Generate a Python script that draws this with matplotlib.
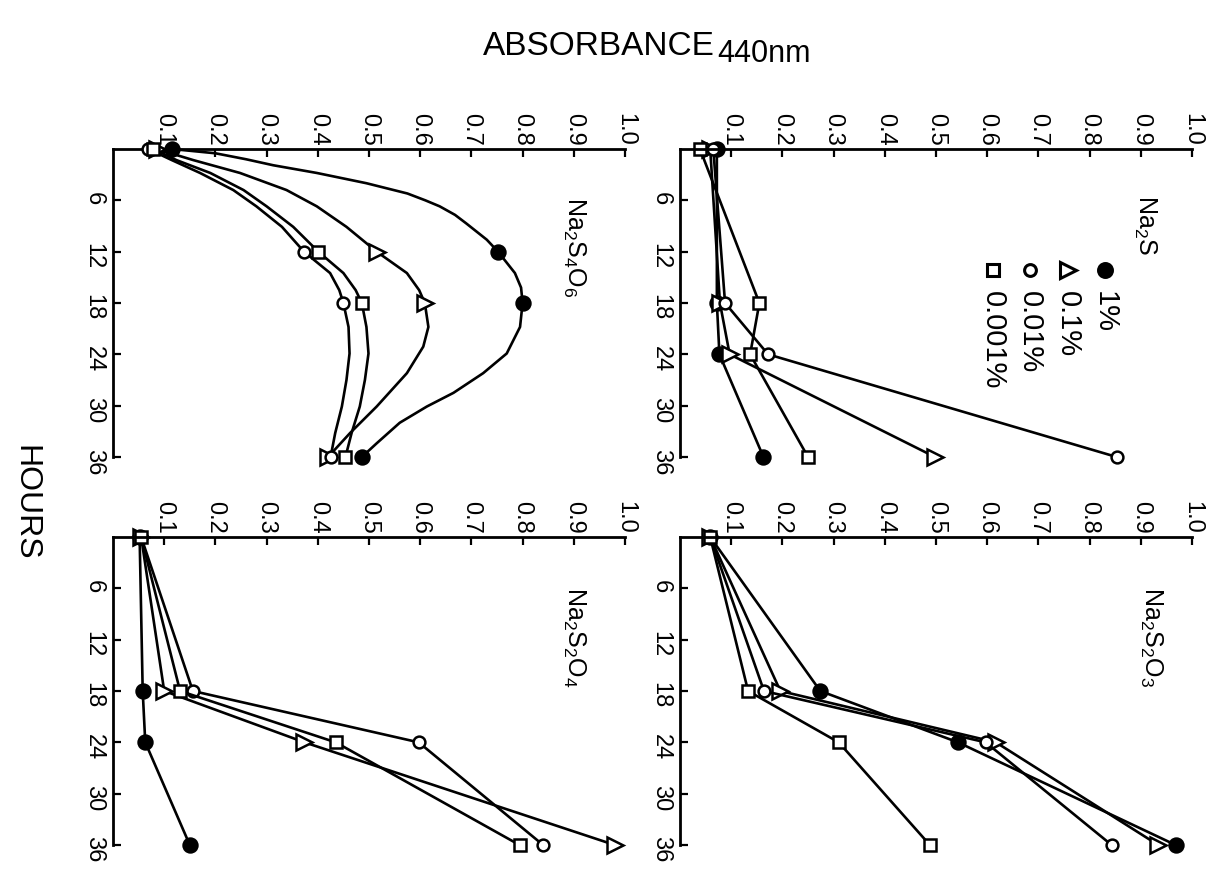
import matplotlib
matplotlib.use('Agg')
import matplotlib.pyplot as plt

# --- data read from the (rotated) figure: absorbance at 440 nm vs hours ---
# Na2S4O6 panel: measured points
s4o6_hours = [0, 12, 18, 36]
s4o6_1 = [0.115, 0.752, 0.800, 0.486]
s4o6_01 = [0.085, 0.515, 0.609, 0.420]
s4o6_001 = [0.069, 0.373, 0.450, 0.425]
s4o6_0001 = [0.079, 0.401, 0.486, 0.454]

# Na2S4O6 panel: hand drawn smooth curves
s4o6_curve_h_1 = [0, 0.5, 1.2, 1.9, 2.8, 4.0, 5.2, 6.0, 6.7, 7.7, 8.7, 10.6, 12, 14.5,
                  16.2, 18, 20.8, 23.9, 26.2, 28.5, 30.1, 32.0, 34.4, 36]
s4o6_curve_1 = [0.115, 0.20, 0.26, 0.313, 0.398, 0.495, 0.575, 0.61, 0.638, 0.668,
                0.69, 0.73, 0.752, 0.785, 0.797, 0.80, 0.795, 0.769, 0.723, 0.665,
                0.613, 0.56, 0.515, 0.486]
s4o6_curve_h_01 = [0, 1.3, 2.8, 4.8, 6.7, 9.1, 12, 14.5, 16.5, 18, 20.8, 23.1, 26.2,
                   30.1, 33.2, 36]
s4o6_curve_01 = [0.085, 0.157, 0.248, 0.339, 0.398, 0.456, 0.515, 0.574, 0.598, 0.609,
                 0.616, 0.606, 0.574, 0.515, 0.463, 0.420]
s4o6_curve_h_sq = [0, 1.3, 2.8, 4.8, 6.7, 9.1, 12, 14.5, 16.5, 18, 20.8, 23.9, 27,
                   30.1, 33.2, 36]
s4o6_curve_0001 = [0.079, 0.124, 0.19, 0.255, 0.30, 0.352, 0.401, 0.45, 0.474, 0.486,
                   0.495, 0.499, 0.492, 0.482, 0.466, 0.454]
s4o6_curve_001 = [0.069, 0.115, 0.17, 0.235, 0.28, 0.33, 0.373, 0.424, 0.442, 0.45,
                  0.46, 0.462, 0.456, 0.447, 0.434, 0.425]

# Na2S panel
s_hours = [0, 18, 24, 36]
s_1 = [0.072, 0.072, 0.077, 0.163]
s_01 = [0.059, 0.078, 0.097, 0.498]
s_001 = [0.065, 0.088, 0.172, 0.853]
s_0001 = [0.039, 0.155, 0.137, 0.250]

# Na2S2O4 panel
s2o4_hours = [0, 18, 24, 36]
s2o4_1 = [0.052, 0.058, 0.063, 0.150]
s2o4_01 = [0.055, 0.100, 0.374, 0.980]
s2o4_001 = [0.055, 0.156, 0.597, 0.840]
s2o4_0001 = [0.055, 0.131, 0.435, 0.794]

# Na2S2O3 panel
s2o3_hours = [0, 18, 24, 36]
s2o3_1 = [0.059, 0.274, 0.543, 0.968]
s2o3_01 = [0.059, 0.196, 0.617, 0.934]
s2o3_001 = [0.059, 0.164, 0.597, 0.843]
s2o3_0001 = [0.059, 0.133, 0.310, 0.488]

legend_labels = ['1%', '0.1%', '0.01%', '0.001%']
abs_ticks = [0.1, 0.2, 0.3, 0.4, 0.5, 0.6, 0.7, 0.8, 0.9, 1.0]
abs_tick_labels = ['0.1', '0.2', '0.3', '0.4', '0.5', '0.6', '0.7', '0.8', '0.9', '1.0']
hour_ticks = [6, 12, 18, 24, 30, 36]

SANS = ['Liberation Sans', 'DejaVu Sans']
plt.rcParams['font.family'] = SANS
plt.rcParams['mathtext.default'] = 'regular'

styles = [
    dict(marker='o', ms=10, mfc='black', mec='black'),
    dict(marker='>', ms=11, mfc='white', mec='black'),
    dict(marker='o', ms=8.5, mfc='white', mec='black'),
    dict(marker='s', ms=8, mfc='white', mec='black'),
]
LW = 1.9

fig = plt.figure(figsize=(12.16, 8.74), dpi=100)
W, H = 1216.0, 874.0


def make_axes(x0, y0):
    # panel box in pixels: absorbance 0..1 spans 512 px, hours 0..36 spans 308 px
    ax = fig.add_axes([x0 / W, 1 - (y0 + 308) / H, 512 / W, 308 / H])
    ax.set_xlim(0, 1.0)
    ax.set_ylim(36, 0)
    for side in ['right', 'bottom']:
        ax.spines[side].set_visible(False)
    for side in ['top', 'left']:
        ax.spines[side].set_linewidth(2.0)
    ax.xaxis.tick_top()
    ax.set_xticks(abs_ticks)
    ax.set_xticklabels(abs_tick_labels)
    ax.set_yticks(hour_ticks)
    ax.set_yticklabels([str(h) for h in hour_ticks])
    ax.tick_params(axis='x', direction='in', length=6, width=1.6, pad=2,
                   labelsize=17, labelrotation=-90)
    ax.tick_params(axis='y', direction='in', length=6, width=1.6, pad=6,
                   labelsize=17, labelrotation=-90)
    return ax


def panel_label(ax, text, x, h):
    ax.text(x, h, text, rotation=-90, ha='center', va='top', fontsize=18)


# top left: Na2S4O6 (smooth curves)
ax = make_axes(113, 149)
curves = [(s4o6_curve_h_1, s4o6_curve_1), (s4o6_curve_h_01, s4o6_curve_01),
          (s4o6_curve_h_sq, s4o6_curve_001), (s4o6_curve_h_sq, s4o6_curve_0001)]
for hh, aa in curves:
    ax.plot(aa, hh, color='black', lw=LW, clip_on=False, zorder=2,
            solid_joinstyle='round')
for vals, st in zip([s4o6_1, s4o6_01, s4o6_001, s4o6_0001], styles):
    ax.plot(vals, s4o6_hours, ls='none', mew=1.8, clip_on=False, zorder=3, **st)
panel_label(ax, r'Na$_2$S$_4$O$_6$', 0.90, 5.6)

# top right: Na2S with legend
ax = make_axes(680, 149)
for vals, st in zip([s_1, s_01, s_001, s_0001], styles):
    ax.plot(vals, s_hours, color='black', lw=LW, mew=1.8, clip_on=False, **st)
panel_label(ax, r'Na$_2$S', 0.908, 5.4)
for i, (lab, st) in enumerate(zip(legend_labels, styles)):
    lx = 0.83 - i * 0.073
    ax.plot([lx], [14.1], ls='none', mew=2.2, clip_on=False, **st)
    ax.text(lx, 16.6, lab, rotation=-90, ha='center', va='top', fontsize=21)

# bottom left: Na2S2O4
ax = make_axes(113, 537)
for vals, st in zip([s2o4_1, s2o4_01, s2o4_001, s2o4_0001], styles):
    ax.plot(vals, s2o4_hours, color='black', lw=LW, mew=1.8, clip_on=False, **st)
panel_label(ax, r'Na$_2$S$_2$O$_4$', 0.90, 5.8)

# bottom right: Na2S2O3
ax = make_axes(680, 537)
for vals, st in zip([s2o3_1, s2o3_01, s2o3_001, s2o3_0001], styles):
    ax.plot(vals, s2o3_hours, color='black', lw=LW, mew=1.8, clip_on=False, **st)
panel_label(ax, r'Na$_2$S$_2$O$_3$', 0.92, 5.8)

# axis titles (figure was rotated, so ABSORBANCE runs across the top)
fig.text(483 / W, 1 - 55 / H, 'ABSORBANCE', ha='left', va='baseline',
         fontsize=24)
fig.text(717 / W, 1 - 62 / H, '440nm', ha='left', va='baseline',
         fontsize=22)
fig.text(25 / W, 1 - 503 / H, 'HOURS', rotation=-90, ha='center', va='center',
         fontsize=23)

fig.savefig('out.png', dpi=100)
